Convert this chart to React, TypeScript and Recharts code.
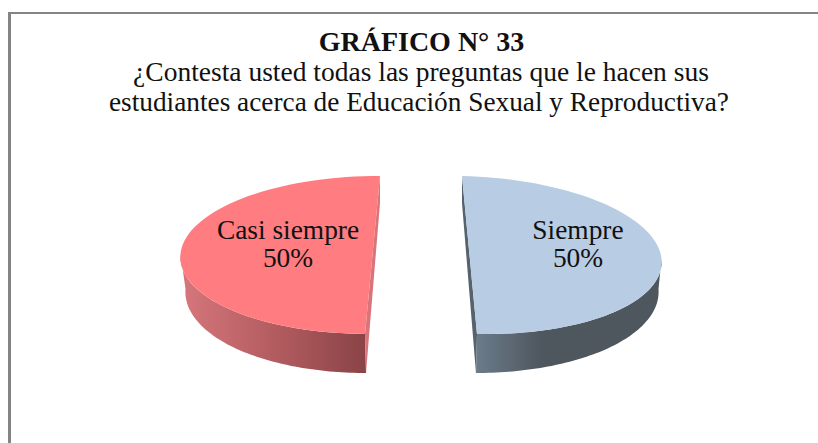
import { PieChart, Pie } from 'recharts';

const categories = ['Siempre', 'Casi siempre'];
const shares = [50, 50];
const titleLines = ['¿Contesta usted todas las preguntas que le hacen sus', 'estudiantes acerca de Educación Sexual y Reproductiva?'];

const serif = '"Liberation Serif", "Times New Roman", serif';
const data = categories.map((name, i) => ({ name, value: shares[i] }));

// perspective of the 3D look, per slice
const looks: Record<string, any> = {
  Siempre: {
    top: '#B8CCE4', band: '#56636e', shear: -7.5, drop: 4, shearB: -6.5,
    botA: 189, botB: 84, botY: 289, labelDx: 108.5,
    stops: [['0%', '#6b7b8a'], ['35%', '#4e565e'], ['100%', '#4e565e']],
  },
  'Casi siempre': {
    top: '#FF7C80', band: '#d9747a', shear: 7.5, drop: 1, shearB: 6.5,
    botA: 187, botB: 84, botY: 289, labelDx: -84.5,
    stops: [['0%', '#d6777c'], ['55%', '#b05a5e'], ['100%', '#8a4447']],
  },
};

const EXPLODE = 48.5;
const SQUASH = 0.411;
const rad = (a: number) => (a * Math.PI) / 180;

function pathFrom(points: number[][]) {
  return points.map((p, i) => `${i ? 'L' : 'M'}${p[0].toFixed(1)} ${p[1].toFixed(1)}`).join(' ') + ' Z';
}

function sweep(from: number, to: number, fn: (t: number) => number[]) {
  const out: number[][] = [];
  for (let i = 0; i <= 72; i++) out.push(fn(from + ((to - from) * i) / 72));
  return out;
}

function Slice3D(props: any) {
  const { cx, cy, outerRadius: R, startAngle, endAngle, name } = props;
  const look = looks[name];
  const mid = (startAngle + endAngle) / 2;
  const ox = cx + EXPLODE * Math.cos(rad(mid));
  const upper = (t: number) => [
    ox + R * Math.cos(rad(t)) + look.shear * Math.sin(rad(t)),
    cy - R * SQUASH * Math.sin(rad(t)) + look.drop * Math.cos(rad(t)),
  ];
  const lower = (t: number) => [
    ox + look.botA * Math.cos(rad(t)) + look.shearB * Math.sin(rad(t)),
    look.botY - look.botB * Math.sin(rad(t)),
  ];
  const wall = [...sweep(-90, mid, upper), ...sweep(mid, -90, lower)];
  const a = upper(90);
  const b = upper(-90);
  const band = [a, [a[0], a[1] + 27], lower(-90), b];
  const gid = `wall-${mid > -90 ? 0 : 1}`;
  const x0 = mid > -90 ? b[0] : upper(mid)[0];
  const x1 = mid > -90 ? upper(mid)[0] : b[0];
  return (
    <g>
      <defs>
        <linearGradient id={gid} gradientUnits="userSpaceOnUse" x1={x0} x2={x1} y1={0} y2={0}>
          {look.stops.map((s: string[]) => (
            <stop key={s[0]} offset={s[0]} stopColor={s[1]} />
          ))}
        </linearGradient>
      </defs>
      <path d={pathFrom(wall)} fill={`url(#${gid})`} />
      <path d={pathFrom(band)} fill={look.band} />
      <path d={pathFrom(sweep(startAngle, endAngle, upper))} fill={look.top} />
    </g>
  );
}

function SliceLabel(props: any) {
  const { cx, midAngle, name, percent } = props;
  const look = looks[name];
  const x = cx + EXPLODE * Math.cos(rad(midAngle)) + look.labelDx;
  return (
    <text textAnchor="middle" fontFamily={serif} fontSize={27.4} fill="#111">
      <tspan x={x} y={239}>{name}</tspan>
      <tspan x={x} y={267}>{`${Math.round(percent * 100)}%`}</tspan>
    </text>
  );
}

export default function App() {
  return (
    <div style={{ position: 'absolute', left: 0, top: 0, width: 818, height: 443, background: '#fff', overflow: 'hidden' }}>
      <div style={{ position: 'absolute', left: 8, top: 12, width: 810, height: 431, borderTop: '2px solid #848484', borderLeft: '3px solid #848484', boxSizing: 'border-box' }} />
      <PieChart width={818} height={443} margin={{ top: 0, right: 0, bottom: 0, left: 0 }} style={{ position: 'absolute', left: 0, top: 0 }}>
        <text x={421.5} y={51} textAnchor="middle" fontFamily={serif} fontSize={28} fontWeight="bold" fill="#111">
          GRÁFICO N° 33
        </text>
        <text x={421} y={81} textAnchor="middle" fontFamily={serif} fontSize={27.5} fill="#111">
          {titleLines[0]}
        </text>
        <text x={419} y={111} textAnchor="middle" fontFamily={serif} fontSize={27.3} fill="#111">
          {titleLines[1]}
        </text>
        <Pie
          data={data}
          dataKey="value"
          nameKey="name"
          cx={421}
          cy={255}
          outerRadius={192}
          startAngle={90}
          endAngle={-270}
          stroke="none"
          shape={Slice3D}
          label={SliceLabel}
          labelLine={false}
          isAnimationActive={false}
        />
      </PieChart>
    </div>
  );
}
